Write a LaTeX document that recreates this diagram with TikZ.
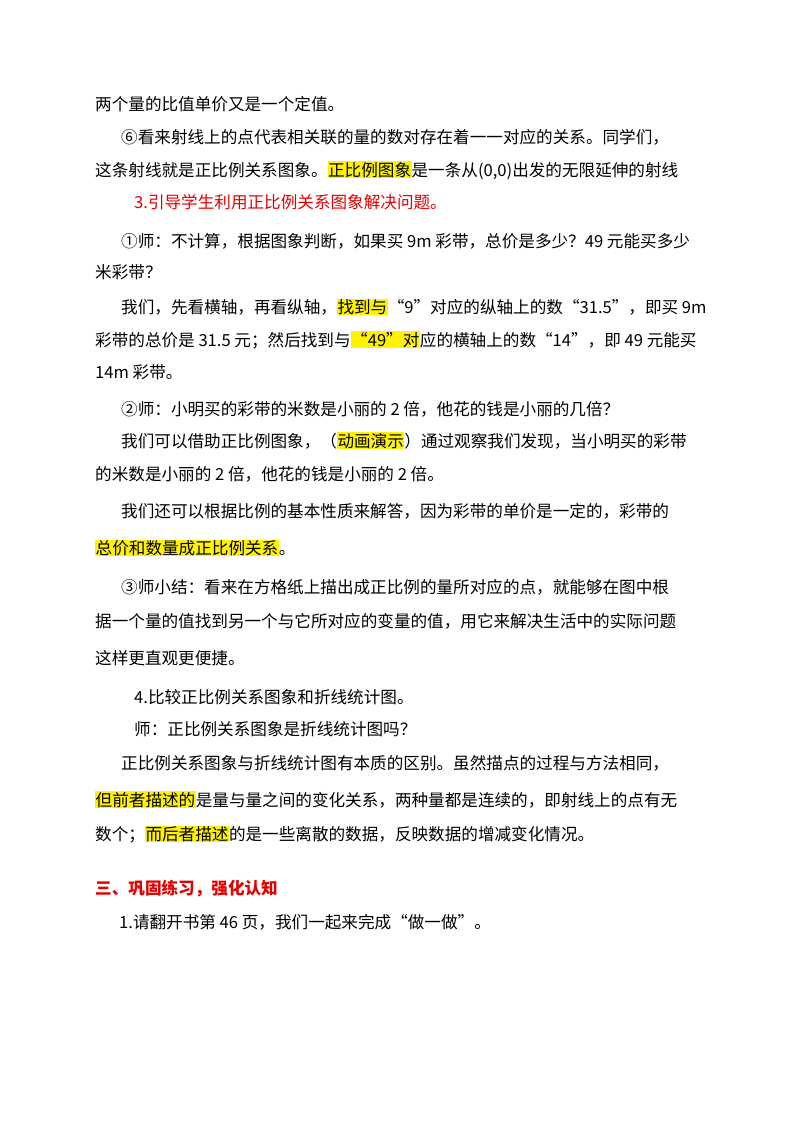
\documentclass[tikz,border=0pt]{standalone}
\usepackage{fontspec}
\setmainfont{Noto Sans CJK SC}
\begin{document}
\newcommand{\hl}[1]{{\setlength{\fboxsep}{0.5pt}\colorbox{yellow}{#1}}}
\begin{tikzpicture}[x=1pt,y=-1pt,
  ln/.style={anchor=base west,inner sep=0pt,font=\fontsize{16.6}{18}\selectfont},
  red/.style={ln,text=red!90!black}]
\useasboundingbox (0,0) rectangle (800,1132);
\node[ln] (l1) at (95,110) {两个量的比值单价又是一个定值。};
\node[ln] (l2) at (121,143) {⑥看来射线上的点代表相关联的量的数对存在着一一对应的关系。同学们，};
\node[ln] (l3) at (95,176) {这条射线就是正比例关系图象。\hl{正比例图象}是一条从(0,0)出发的无限延伸的射线};
\node[red] (l4) at (134,208) {3.引导学生利用正比例关系图象解决问题。};
\node[ln] (l5) at (121,247) {①师：不计算，根据图象判断，如果买 9m 彩带，总价是多少？49 元能买多少};
\node[ln] (l6) at (95,278) {米彩带？};
\node[ln] (l7) at (121,313) {我们，先看横轴，再看纵轴，\hl{找到与}“9”对应的纵轴上的数“31.5”，即买 9m};
\node[ln] (l8) at (95,346) {彩带的总价是 31.5 元；然后找到与\hl{“49”对}应的横轴上的数“14”，即 49 元能买};
\node[ln] (l9) at (95,378) {14m 彩带。};
\node[ln] (l10) at (121,415) {②师：小明买的彩带的米数是小丽的 2 倍，他花的钱是小丽的几倍？};
\node[ln] (l11) at (121,447) {我们可以借助正比例图象，（\hl{动画演示}）通过观察我们发现，当小明买的彩带};
\node[ln] (l12) at (95,480) {的米数是小丽的 2 倍，他花的钱是小丽的 2 倍。};
\node[ln] (l13) at (121,517) {我们还可以根据比例的基本性质来解答，因为彩带的单价是一定的，彩带的};
\node[ln] (l14) at (95,554) {\hl{总价和数量成正比例关系}。};
\node[ln] (l15) at (121,593) {③师小结：看来在方格纸上描出成正比例的量所对应的点，就能够在图中根};
\node[ln] (l16) at (95,627) {据一个量的值找到另一个与它所对应的变量的值，用它来解决生活中的实际问题};
\node[ln] (l17) at (95,664) {这样更直观更便捷。};
\node[ln] (l18) at (134,703) {4.比较正比例关系图象和折线统计图。};
\node[ln] (l19) at (134,735) {师：正比例关系图象是折线统计图吗？};
\node[ln] (l20) at (121,769) {正比例关系图象与折线统计图有本质的区别。虽然描点的过程与方法相同，};
\node[ln] (l21) at (95,806) {\hl{但前者描述的}是量与量之间的变化关系，两种量都是连续的，即射线上的点有无};
\node[ln] (l22) at (95,840) {数个；\hl{而后者描述}的是一些离散的数据，反映数据的增减变化情况。};
\node[red,font=\fontsize{16.6}{18}\selectfont\bfseries] (l23) at (95,894) {三、巩固练习，强化认知};
\node[ln] (l24) at (119,928) {1.请翻开书第 46 页，我们一起来完成“做一做”。};
\end{tikzpicture}
\end{document}
